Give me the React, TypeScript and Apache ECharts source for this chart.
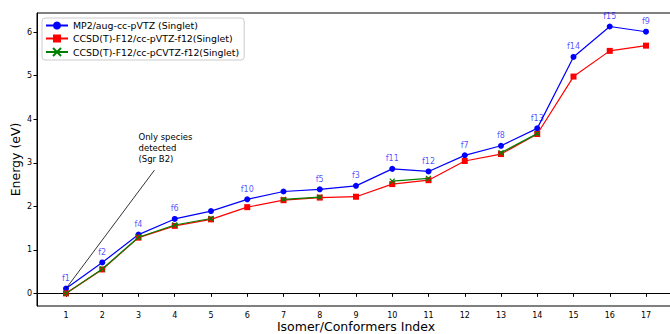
import React, { useEffect, useRef } from "react";
import * as echarts from "echarts";

const indices = [1, 2, 3, 4, 5, 6, 7, 8, 9, 10, 11, 12, 13, 14, 15, 16, 17];
const mp2 = [0.11, 0.71, 1.35, 1.71, 1.89, 2.16, 2.34, 2.39, 2.47, 2.86, 2.80, 3.17, 3.39, 3.79, 5.43, 6.13, 6.01];
const ccsdPVTZ = [0.0, 0.55, 1.28, 1.55, 1.70, 1.98, 2.14, 2.20, 2.22, 2.51, 2.60, 3.04, 3.20, 3.66, 4.98, 5.57, 5.69];
const ccsdPCVTZ: (number | null)[] = [0.0, 0.56, 1.29, 1.57, 1.72, null, 2.16, 2.21, null, 2.58, 2.64, null, 3.23, 3.67, null, null, null];
const pointLabels = ["f1", "f2", "f4", "f6", "", "f10", "", "f5", "f3", "f11", "f12", "f7", "f8", "f13", "f14", "f15", "f9"];
const yTicks = [0, 1, 2, 3, 4, 5, 6];
const seriesNames = [
  "MP2/aug-cc-pVTZ (Singlet)",
  "CCSD(T)-F12/cc-pVTZ-f12(Singlet)",
  "CCSD(T)-F12/cc-pCVTZ-f12(Singlet)",
];
const annotationText = "Only species\ndetected\n(Sgr B2)";
const annotationTextAt = [3.0, 3.72];
const arrowFrom = [3.44, 2.83];
const arrowTo = [1, 0.11];

const FONT = "DejaVu Sans";

export default function App() {
  const ref = useRef<HTMLDivElement>(null);
  useEffect(() => {
    document.body.style.margin = "0";
    if (!ref.current) return;
    const chart = echarts.init(ref.current, null, { renderer: "svg" });
    const pairs = (arr: (number | null)[]) => indices.map((x, i) => [x, arr[i] === null ? null : arr[i]]);
    chart.setOption({
      animation: false,
      textStyle: { fontFamily: FONT },
      grid: {
        left: 37,
        top: 13,
        width: 638,
        height: 293,
        containLabel: false,
        outerBoundsMode: "none",
        show: true,
        borderColor: "#000",
        borderWidth: 1,
        backgroundColor: "transparent",
      },
      legend: {
        left: 42,
        top: 18,
        orient: "vertical",
        itemWidth: 22,
        itemHeight: 10,
        itemGap: 4,
        padding: [3, 5, 3, 3],
        borderColor: "#cccccc",
        borderWidth: 1,
        borderRadius: 3,
        backgroundColor: "rgba(255,255,255,0.8)",
        textStyle: { fontFamily: FONT, fontSize: 9.4, color: "#000" },
        data: seriesNames,
      },
      xAxis: {
        type: "value",
        min: 0.2,
        max: 17.8,
        name: "Isomer/Conformers Index",
        nameLocation: "middle",
        nameGap: 14,
        nameMoveOverlap: false,
        nameTextStyle: { fontFamily: FONT, fontSize: 12.5, color: "#000", verticalAlign: "top" },
        splitLine: { show: false },
        axisLine: { show: true, lineStyle: { color: "#000", width: 1 } },
        axisTick: { show: true, length: 3.5, customValues: indices, lineStyle: { color: "#000" } },
        axisLabel: { customValues: indices, fontFamily: FONT, fontSize: 8, color: "#000", margin: 5 },
      },
      yAxis: {
        type: "value",
        min: -0.29,
        max: 6.44,
        name: "Energy (eV)",
        nameLocation: "middle",
        nameGap: 15,
        nameMoveOverlap: false,
        nameTextStyle: { fontFamily: FONT, fontSize: 12.5, color: "#000" },
        splitLine: { show: false },
        axisLine: { show: true, lineStyle: { color: "#000", width: 1 } },
        axisTick: { show: true, length: 3.5, customValues: yTicks, lineStyle: { color: "#000" } },
        axisLabel: { customValues: yTicks, fontFamily: FONT, fontSize: 8, color: "#000", margin: 5 },
      },
      series: [
        {
          name: seriesNames[0],
          type: "line",
          data: pairs(mp2),
          symbol: "circle",
          symbolSize: 6,
          itemStyle: { color: "#0000ff" },
          lineStyle: { color: "#0000ff", width: 1.2 },
          label: {
            show: true,
            position: "top",
            distance: 3,
            fontFamily: FONT,
            fontSize: 8,
            color: "rgba(0,0,255,0.7)",
            formatter: (p: any) => pointLabels[p.dataIndex],
          },
          z: 2,
        },
        {
          name: seriesNames[1],
          type: "line",
          data: pairs(ccsdPVTZ),
          symbol: "rect",
          symbolSize: 6,
          itemStyle: { color: "#ff0000" },
          lineStyle: { color: "#ff0000", width: 1.2 },
          markLine: {
            silent: true,
            symbol: ["none", "arrow"],
            symbolSize: [0, 6],
            label: { show: false },
            lineStyle: { color: "#000", width: 0.8, type: "solid" },
            data: [[{ coord: arrowFrom }, { coord: arrowTo }]],
          },
          z: 3,
        },
        {
          name: seriesNames[2],
          type: "line",
          data: pairs(ccsdPCVTZ),
          connectNulls: false,
          symbol: "path://M0,0L10,10M10,0L0,10",
          symbolSize: 5,
          itemStyle: { color: "#008000", borderColor: "#008000", borderWidth: 1.2 },
          lineStyle: { color: "#008000", width: 1.2 },
          z: 4,
        },
      ],
    });
    const p = chart.convertToPixel({ gridIndex: 0 }, annotationTextAt) as number[];
    chart.setOption({
      graphic: [
        {
          type: "text",
          x: p[0],
          y: p[1],
          style: {
            text: annotationText,
            fontFamily: FONT,
            fontSize: 8.5,
            lineHeight: 11,
            fill: "#000",
          },
        },
      ],
    });
    return () => chart.dispose();
  }, []);
  return <div ref={ref} style={{ width: 670, height: 334 }} />;
}
